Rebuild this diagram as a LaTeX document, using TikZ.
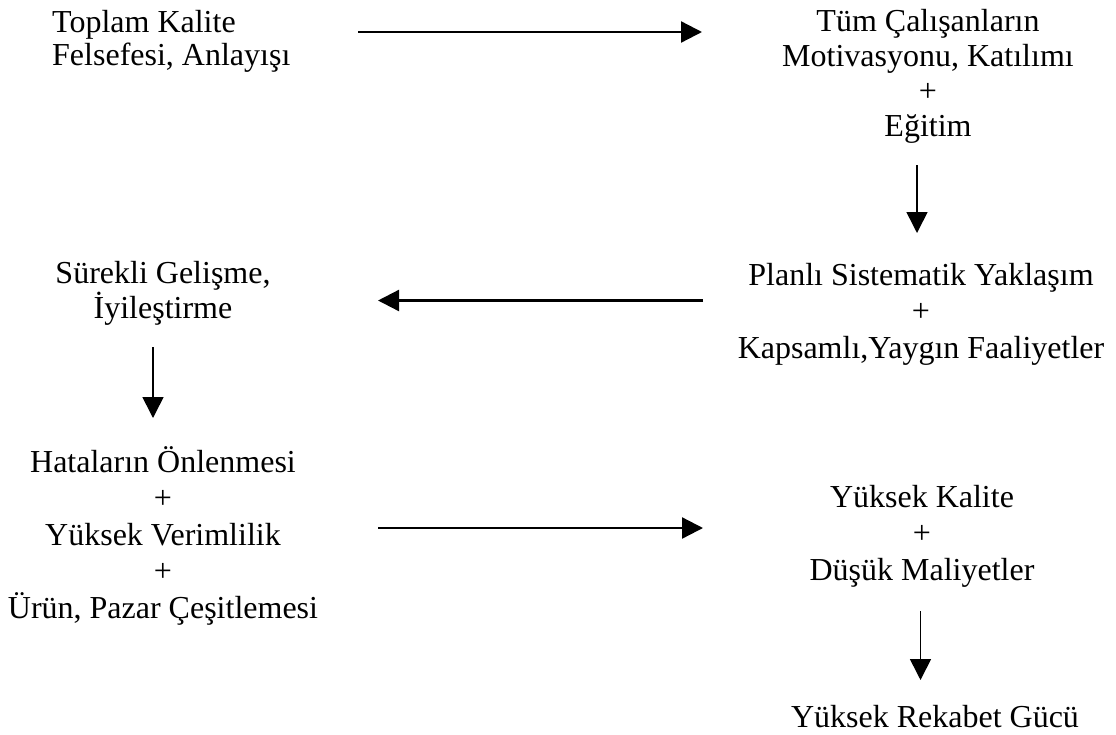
\documentclass[tikz,border=0pt]{standalone}
\usepackage{fontspec}
\setmainfont{Liberation Serif}
\usetikzlibrary{arrows.meta}
\begin{document}
\begin{tikzpicture}[x=1pt,y=-1pt,
  lbl/.style={inner sep=0pt, align=center, anchor=base},
  fA/.style={font=\fontsize{32}{33}\selectfont},
  fB/.style={font=\fontsize{32}{35}\selectfont},
  fC/.style={font=\fontsize{32}{36.5}\selectfont},
  harrow/.style={line width=2.3pt, -{Triangle[length=21pt,width=21pt]}},
  varrow/.style={line width=1.6pt, -{Triangle[length=21pt,width=21pt]}}]
\useasboundingbox (0,0) rectangle (1116,734);
\fill[white] (0,0) rectangle (1116,734);
% text blocks (anchored at the baseline of their last line)
\node[lbl, fA, align=left, anchor=base west] (phil) at (52,65) {Toplam Kalite\\Felsefesi, Anlayışı};
\node[lbl, fB] (motiv) at (928,136) {Tüm Çalışanların\\Motivasyonu, Katılımı\\+\\Eğitim};
\node[lbl, fB] (impr) at (163,318) {Sürekli Gelişme,\\İyileştirme};
\node[lbl, fC] (plan) at (921,358) {Planlı Sistematik Yaklaşım\\+\\Kapsamlı,Yaygın Faaliyetler};
\node[lbl, fC] (prev) at (163,618) {Hataların Önlenmesi\\+\\Yüksek Verimlilik\\+\\Ürün, Pazar Çeşitlemesi};
\node[lbl, fC] (qual) at (922,580) {Yüksek Kalite\\+\\Düşük Maliyetler};
\node[lbl, fA] (comp) at (935,727) {Yüksek Rekabet Gücü};
% connector end points
\coordinate (a1s) at (358,32);   \coordinate (a1e) at (702,32);
\coordinate (a2s) at (917,165);  \coordinate (a2e) at (917,233);
\coordinate (a3s) at (703,300.5);\coordinate (a3e) at (378,300.5);
\coordinate (a4s) at (153,347);  \coordinate (a4e) at (153,418);
\coordinate (a5s) at (378,528);  \coordinate (a5e) at (703,528);
\coordinate (a6s) at (920.5,611);\coordinate (a6e) at (920.5,680);
\draw[harrow] (a1s) -- (a1e);
\draw[varrow] (a2s) -- (a2e);
\draw[harrow] (a3s) -- (a3e);
\draw[varrow] (a4s) -- (a4e);
\draw[harrow] (a5s) -- (a5e);
\draw[varrow] (a6s) -- (a6e);
\end{tikzpicture}
\end{document}
